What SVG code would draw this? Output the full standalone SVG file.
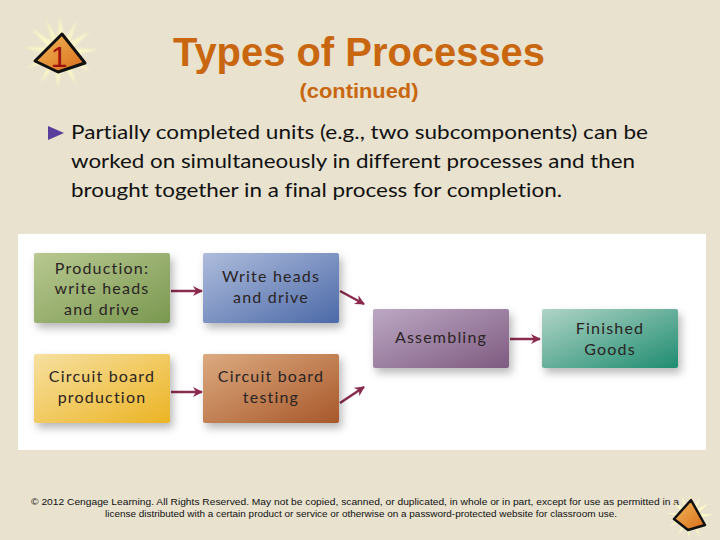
<svg xmlns="http://www.w3.org/2000/svg" width="720" height="540" viewBox="0 0 720 540">
<style>
.lbl{font-family:"Lato","Open Sans",sans-serif;font-size:16px;fill:#2a2424;letter-spacing:1.2px;text-anchor:middle}
.body{font-family:"Lato","Open Sans",sans-serif;font-size:20px;fill:#111;font-variant-ligatures:none}
.conn{stroke:#8a2a4e;stroke-width:2.5;fill:none;marker-end:url(#ah)}
.foot{font-family:"Liberation Sans",Arial,sans-serif;font-size:9.5px;fill:#111;text-anchor:middle}
</style>
<defs>
<marker id="ah" viewBox="0 0 10 10" refX="9" refY="5" markerWidth="4" markerHeight="4" orient="auto" markerUnits="strokeWidth">
<path d="M0,0 L10,5 L0,10 L3,5 z" fill="#8a2a4e"/>
</marker>
<filter id="sh" x="-20%" y="-20%" width="150%" height="160%">
<feDropShadow dx="3" dy="5" stdDeviation="4" flood-color="#000" flood-opacity="0.28"/>
</filter>
<filter id="blur" x="-50%" y="-50%" width="200%" height="200%"><feGaussianBlur stdDeviation="0.8"/></filter>
<linearGradient id="gGreen" x1="0" y1="0" x2="1" y2="1"><stop offset="0" stop-color="#b8c890"/><stop offset="1" stop-color="#7a9850"/></linearGradient>
<linearGradient id="gBlue" x1="0" y1="0" x2="1" y2="1"><stop offset="0" stop-color="#aebcdc"/><stop offset="1" stop-color="#4c6aa8"/></linearGradient>
<linearGradient id="gYel" x1="0" y1="0" x2="1" y2="1"><stop offset="0" stop-color="#f6e0a0"/><stop offset="1" stop-color="#ecb424"/></linearGradient>
<linearGradient id="gBrn" x1="0" y1="0" x2="1" y2="1"><stop offset="0" stop-color="#dcaa80"/><stop offset="1" stop-color="#a8582a"/></linearGradient>
<linearGradient id="gPur" x1="0" y1="0" x2="1" y2="1"><stop offset="0" stop-color="#bca8c4"/><stop offset="1" stop-color="#7e5a80"/></linearGradient>
<linearGradient id="gTeal" x1="0" y1="0" x2="1" y2="1"><stop offset="0" stop-color="#b0d4c6"/><stop offset="1" stop-color="#1e8c70"/></linearGradient>
<linearGradient id="gPyr" x1="0" y1="0" x2="1" y2="1"><stop offset="0" stop-color="#f4bc5c"/><stop offset="1" stop-color="#d86a18"/></linearGradient>
<g id="burst">
<polygon points="0,-30 4,-10 14,-26 8,-8 26,-18 10,-3 32,-2 10,3 26,16 7,8 14,28 2,10 -2,30 -4,10 -16,26 -8,6 -28,14 -10,1 -32,-4 -10,-4 -24,-20 -6,-8 -12,-28 -2,-10" fill="#fffbc4" opacity="0.85" filter="url(#blur)"/>
</g>
</defs>
<rect width="720" height="540" fill="#e8e2cf"/>

<g id="logo-top">
<use href="#burst" transform="translate(60,52) scale(1.2)"/>
<polygon points="62,34 35,61 58,72 85,63" fill="url(#gPyr)" stroke="#111" stroke-width="3" stroke-linejoin="round"/>
<text x="59" y="67" font-family="Liberation Sans,Arial,sans-serif" font-size="30" fill="#9c1010" text-anchor="middle">1</text>
</g>

<g id="title">
<text x="359" y="66" font-family="Liberation Sans,Arial,sans-serif" font-weight="bold" font-size="40" fill="#c8670f" text-anchor="middle" textLength="372" lengthAdjust="spacingAndGlyphs">Types of Processes</text>
<text x="359" y="98" font-family="Liberation Sans,Arial,sans-serif" font-weight="bold" font-size="21" fill="#c8670f" text-anchor="middle" textLength="119" lengthAdjust="spacingAndGlyphs">(continued)</text>
</g>

<g id="bullet">
<polygon points="48,126 64,133 48,140" fill="#5a3e9c"/>
<text class="body" x="71" y="139" textLength="577" lengthAdjust="spacingAndGlyphs">Partially completed units (e.g., two subcomponents) can be</text>
<text class="body" x="71" y="168" textLength="564" lengthAdjust="spacingAndGlyphs">worked on simultaneously in different processes and then</text>
<text class="body" x="71" y="197" textLength="491" lengthAdjust="spacingAndGlyphs">brought together in a final process for completion.</text>
</g>

<rect x="18" y="234" width="688" height="216" fill="#ffffff"/>

<g id="connectors">
<line class="conn" x1="171" y1="291" x2="202" y2="291"/>
<line class="conn" x1="171" y1="392" x2="202" y2="392"/>
<line class="conn" x1="340" y1="291" x2="364" y2="304"/>
<line class="conn" x1="340" y1="403" x2="364" y2="387"/>
<line class="conn" x1="510" y1="339" x2="540" y2="339"/>
</g>

<g id="n-production">
<rect x="34" y="253" width="136" height="70" rx="2" fill="url(#gGreen)" filter="url(#sh)"/>
<text class="lbl" x="102" y="274">Production:</text>
<text class="lbl" x="102" y="294">write heads</text>
<text class="lbl" x="102" y="315">and drive</text>
</g>
<g id="n-writeheads">
<rect x="203" y="253" width="136" height="70" rx="2" fill="url(#gBlue)" filter="url(#sh)"/>
<text class="lbl" x="271" y="282">Write heads</text>
<text class="lbl" x="271" y="303">and drive</text>
</g>
<g id="n-cbprod">
<rect x="34" y="354" width="136" height="69" rx="2" fill="url(#gYel)" filter="url(#sh)"/>
<text class="lbl" x="102" y="382">Circuit board</text>
<text class="lbl" x="102" y="403">production</text>
</g>
<g id="n-cbtest">
<rect x="203" y="354" width="136" height="69" rx="2" fill="url(#gBrn)" filter="url(#sh)"/>
<text class="lbl" x="271" y="382">Circuit board</text>
<text class="lbl" x="271" y="403">testing</text>
</g>
<g id="n-assembling">
<rect x="373" y="309" width="136" height="59" rx="2" fill="url(#gPur)" filter="url(#sh)"/>
<text class="lbl" x="441" y="343">Assembling</text>
</g>
<g id="n-finished">
<rect x="542" y="309" width="136" height="59" rx="2" fill="url(#gTeal)" filter="url(#sh)"/>
<text class="lbl" x="610" y="334">Finished</text>
<text class="lbl" x="610" y="355">Goods</text>
</g>

<g id="footer">
<text class="foot" x="355" y="505" textLength="648" lengthAdjust="spacingAndGlyphs">© 2012 Cengage Learning. All Rights Reserved. May not be copied, scanned, or duplicated, in whole or in part, except for use as permitted in a</text>
<text class="foot" x="361" y="517" textLength="512" lengthAdjust="spacingAndGlyphs">license distributed with a certain product or service or otherwise on a password-protected website for classroom use.</text>
</g>

<g id="logo-bottom">
<use href="#burst" transform="translate(690,516) scale(0.75)"/>
<polygon points="691,500 674,519 688,530 705,525" fill="url(#gPyr)" stroke="#111" stroke-width="2.5" stroke-linejoin="round"/>
</g>
</svg>
